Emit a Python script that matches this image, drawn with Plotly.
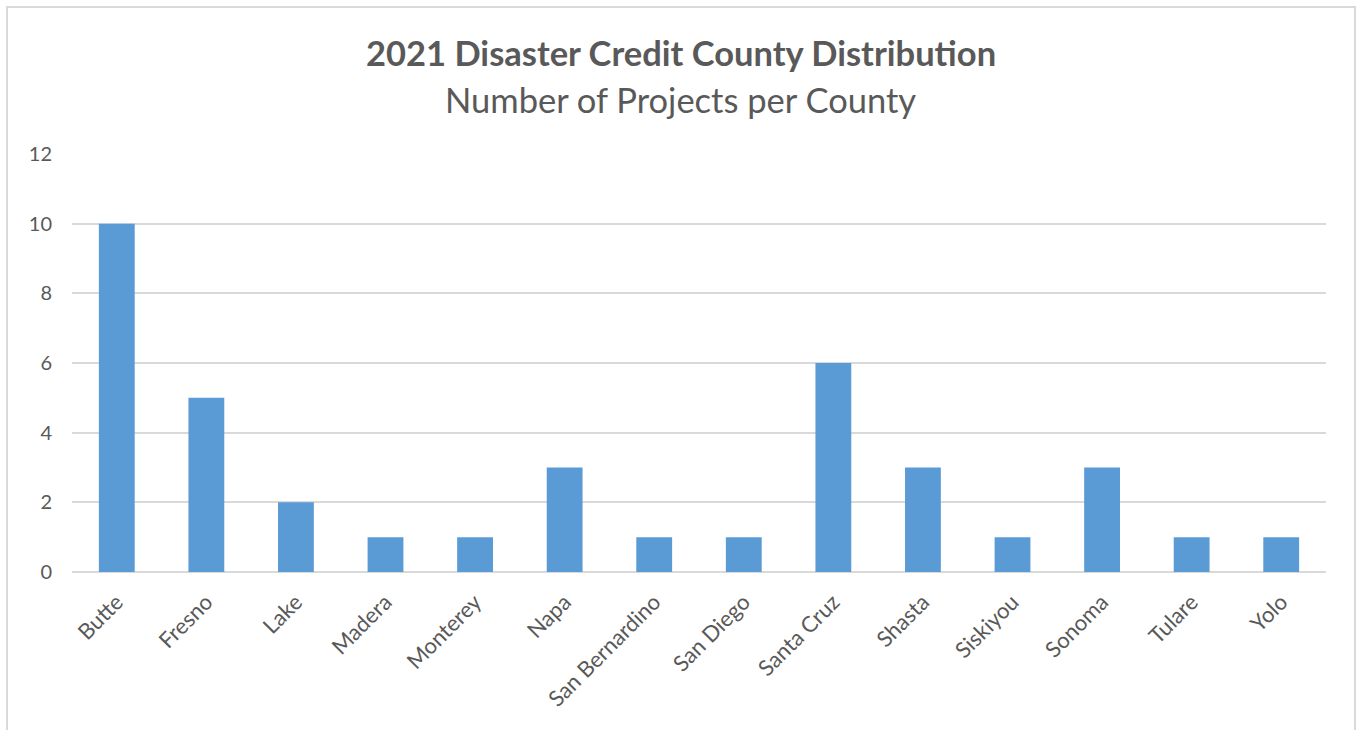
import plotly.graph_objects as go

counties = [
    "Butte", "Fresno", "Lake", "Madera", "Monterey", "Napa", "San Bernardino",
    "San Diego", "Santa Cruz", "Shasta", "Siskiyou", "Sonoma", "Tulare", "Yolo",
]
projects = [10, 5, 2, 1, 1, 3, 1, 1, 6, 3, 1, 3, 1, 1]
y_ticks = [0, 2, 4, 6, 8, 10, 12]

title = "2021 Disaster Credit County Distribution"
subtitle = "Number of Projects per County"

FONT = "Lato"
TEXT_GREY = "#595959"
GRID_GREY = "#d9d9d9"
BAR_BLUE = "#5b9bd5"

fig = go.Figure(
    go.Bar(
        x=counties,
        y=projects,
        marker={"color": BAR_BLUE, "line": {"width": 0}},
        hovertemplate="%{x}: %{y}<extra></extra>",
    )
)

fig.update_layout(
    width=1361,
    height=730,
    margin={"l": 72, "r": 35, "t": 154, "b": 158},
    paper_bgcolor="white",
    plot_bgcolor="white",
    bargap=0.6,
    showlegend=False,
    font={"family": FONT, "color": TEXT_GREY, "size": 20},
    xaxis={
        "tickangle": -45,
        "tickfont": {"size": 22, "color": TEXT_GREY},
        "showgrid": False,
        "showline": False,
        "ticks": "",
        "ticklabelstandoff": 12,
    },
    yaxis={
        "range": [0, 12],
        "tickvals": y_ticks,
        "tickfont": {"size": 20, "color": TEXT_GREY},
        "gridcolor": GRID_GREY,
        "gridwidth": 1.5,
        "zeroline": True,
        "zerolinecolor": GRID_GREY,
        "zerolinewidth": 2,
        "showline": False,
        "ticklabelstandoff": 19,
    },
    annotations=[
        {
            "text": f"<b>{title}</b>",
            "xref": "paper", "yref": "paper",
            "x": 0.4856, "y": 1.244,
            "xanchor": "center", "yanchor": "middle",
            "showarrow": False,
            "font": {"size": 34.5, "color": TEXT_GREY, "family": FONT},
        },
        {
            "text": subtitle,
            "xref": "paper", "yref": "paper",
            "x": 0.4856, "y": 1.130,
            "xanchor": "center", "yanchor": "middle",
            "showarrow": False,
            "font": {"size": 34.5, "color": TEXT_GREY, "family": FONT},
        },
    ],
    shapes=[
        {
            "type": "rect",
            "xref": "paper", "yref": "paper",
            "x0": -0.0518, "x1": 1.0231, "y0": -0.6, "y1": 1.3517,
            "line": {"color": GRID_GREY, "width": 2},
            "fillcolor": "rgba(0,0,0,0)",
            "layer": "below",
        }
    ],
)

fig.write_html(
    "out.html",
    config={"displayModeBar": False},
    post_script="document.body.style.margin = '0px';",
)
